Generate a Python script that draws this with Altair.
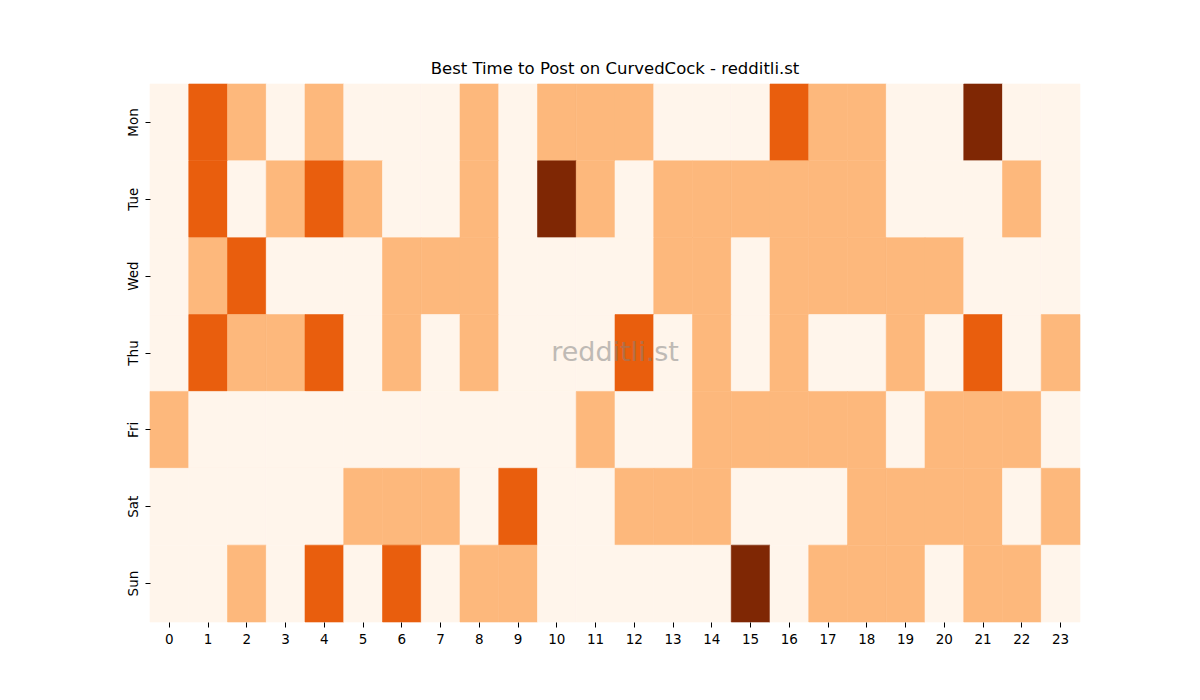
import pandas as pd
import altair as alt

days = ["Mon", "Tue", "Wed", "Thu", "Fri", "Sat", "Sun"]
hours = list(range(24))

# activity level per hour (0 = low ... 3 = best)
mon = [0, 2, 1, 0, 1, 0, 0, 0, 1, 0, 1, 1, 1, 0, 0, 0, 2, 1, 1, 0, 0, 3, 0, 0]
tue = [0, 2, 0, 1, 2, 1, 0, 0, 1, 0, 3, 1, 0, 1, 1, 1, 1, 1, 1, 0, 0, 0, 1, 0]
wed = [0, 1, 2, 0, 0, 0, 1, 1, 1, 0, 0, 0, 0, 1, 1, 0, 1, 1, 1, 1, 1, 0, 0, 0]
thu = [0, 2, 1, 1, 2, 0, 1, 0, 1, 0, 0, 0, 2, 0, 1, 0, 1, 0, 0, 1, 0, 2, 0, 1]
fri = [1, 0, 0, 0, 0, 0, 0, 0, 0, 0, 0, 1, 0, 0, 1, 1, 1, 1, 1, 0, 1, 1, 1, 0]
sat = [0, 0, 0, 0, 0, 1, 1, 1, 0, 2, 0, 0, 1, 1, 1, 0, 0, 0, 1, 1, 1, 1, 0, 1]
sun = [0, 0, 1, 0, 2, 0, 2, 0, 1, 1, 0, 0, 0, 0, 0, 3, 0, 1, 1, 1, 0, 1, 1, 0]

levels = [0, 1, 2, 3]
level_colors = ["#fff5eb", "#fdb87c", "#e95e0d", "#7f2704"]

rows = []
for day, vals in zip(days, [mon, tue, wed, thu, fri, sat, sun]):
    for h, v in zip(hours, vals):
        rows.append({"day": day, "hour": h, "level": v})
df = pd.DataFrame(rows)

FONT = "DejaVu Sans"
level_scale = alt.Scale(domain=levels, range=level_colors)

heat = (alt
        .Chart(df)
        .mark_rect(strokeWidth=0.6)
        .encode(
            x=alt.X("hour:O", sort=hours, title=None,
                    axis=alt.Axis(labelAngle=0, domain=False, tickColor="black",
                                  tickSize=5, labelFontSize=13.5, labelFont=FONT,
                                  labelColor="black", labelPadding=5)),
            y=alt.Y("day:O", sort=days, title=None,
                    axis=alt.Axis(labelAngle=270, labelAlign="center",
                                  labelBaseline="bottom", domain=False,
                                  tickColor="black", tickSize=5,
                                  labelFontSize=13.5, labelFont=FONT,
                                  labelColor="black", labelPadding=5)),
            color=alt.Color("level:O", scale=level_scale, legend=None),
            stroke=alt.Stroke("level:O", scale=level_scale, legend=None)
        )
       )

mark = (alt
        .Chart(pd.DataFrame({"t": ["redditli.st"]}))
        .mark_text(fontSize=27, font=FONT, color="gray", opacity=0.5,
                   align="center", baseline="middle")
        .encode(text="t:N", x=alt.value(465), y=alt.value(269))
       )

chart = (heat + mark).properties(
    width=930,
    height=538,
    title=alt.TitleParams("Best Time to Post on CurvedCock - redditli.st",
                          font=FONT, fontSize=16.5, fontWeight="normal",
                          color="black", offset=6),
    autosize=alt.AutoSizeParams(type="none"),
    padding={"left": 142, "top": 76, "right": 112, "bottom": 70}
).configure_view(stroke=None).configure_scale(bandPaddingInner=0, bandPaddingOuter=0)

chart.save("out.html", embed_options={"renderer": "svg", "actions": False})
